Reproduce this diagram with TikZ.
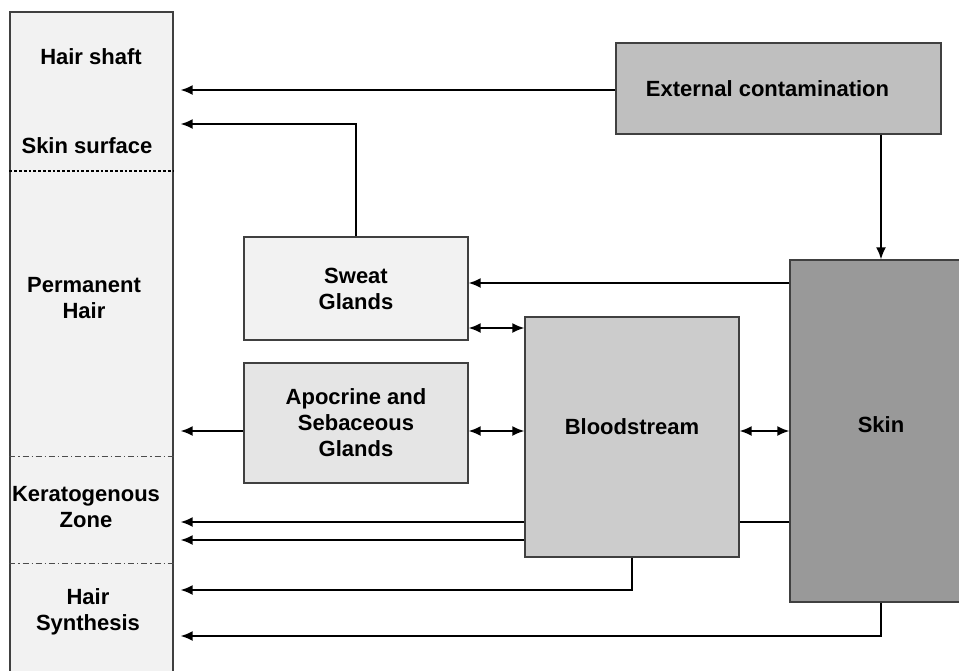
\documentclass[tikz,border=0pt]{standalone}
\usepackage{fontspec}
\setmainfont{Liberation Sans}
\usetikzlibrary{positioning,arrows.meta}

\tikzset{
  block/.style={rectangle, draw=black!75, line width=0.7pt, align=center,
    font=\bfseries\fontsize{11}{13}\selectfont},
  zone/.style={align=center, font=\bfseries\fontsize{11}{13}\selectfont},
  link/.style={line width=0.8pt, >={Latex[length=6pt,width=5pt]}},
}

\begin{document}
\begin{tikzpicture}[x=0.5pt, y=-0.5pt]
	\useasboundingbox (0,0) rectangle (959,670);
	% hair column
	\node (hair) at (91.5,344) [block, fill=black!5, minimum width=81.5pt, minimum height=332pt] {};
	\node (shaft) at (91,57) [zone] {Hair shaft};
	\node (surface) at (87,146) [zone] {Skin surface};
	\node (perm) at (84,298) [zone] {Permanent\\Hair};
	\node (kera) at (86,507) [zone] {Keratogenous\\Zone};
	\node (synth) at (88,612) [zone] {Hair\\Synthesis};
	\draw[densely dotted, line width=1.4pt] (hair.west |- 0,171) -- (hair.east |- 0,171);
	\draw[black!70, line width=0.4pt, dash pattern=on 3pt off 1.5pt on 0.6pt off 1.5pt] (hair.west |- 0,456) -- (hair.east |- 0,456);
	\draw[black!70, line width=0.4pt, dash pattern=on 3pt off 1.5pt on 0.6pt off 1.5pt] (hair.west |- 0,563) -- (hair.east |- 0,563);
	\coordinate (tips) at ([xshift=3.5pt]hair.east);
	% sources
	\node (ext) at (778.5,88.5) [block, fill=black!25, minimum width=162.5pt, minimum height=45.5pt] {External contamination\hspace*{11pt}};
	\node (sweat) at (356,288.5) [block, fill=black!5, minimum width=112pt, minimum height=51.5pt] {Sweat\\Glands};
	\node (apoc) at (356,423) [block, fill=black!10, minimum width=112pt, minimum height=60pt] {Apocrine and\\Sebaceous\\Glands};
	\node (blood) at (632,437) [block, fill=black!20, minimum width=107pt, minimum height=120pt, text depth=10pt] {Bloodstream};
	\node (skin) at (881,431) [block, fill=black!40, minimum width=91pt, minimum height=171pt, text depth=6pt] {Skin};
	% connectors
	\draw[link,->] (ext.west |- 0,90) -- (tips |- 0,90);
	\draw[link,->] (sweat.north) |- (tips |- 0,124);
	\draw[link,->] (ext.south -| skin.north) -- (skin.north);
	\draw[link,->] (skin.west |- 0,283) -- (sweat.east |- 0,283);
	\draw[link,<->] (sweat.east |- 0,328) -- (blood.west |- 0,328);
	\draw[link,->] (apoc.west |- skin.west) -- (tips |- skin.west);
	\draw[link,<->] (apoc.east |- skin.west) -- (blood.west |- skin.west);
	\draw[link,<->] (blood.east |- skin.west) -- (skin.west);
	\draw[link] (skin.west |- 0,522) -- (blood.east |- 0,522);
	\draw[link,->] (blood.west |- 0,522) -- (tips |- 0,522);
	\draw[link,->] (blood.west |- 0,540) -- (tips |- 0,540);
	\draw[link,->] (blood.south) |- (tips |- 0,590);
	\draw[link,->] (skin.south) |- (tips |- 0,636);
\end{tikzpicture}
\end{document}
